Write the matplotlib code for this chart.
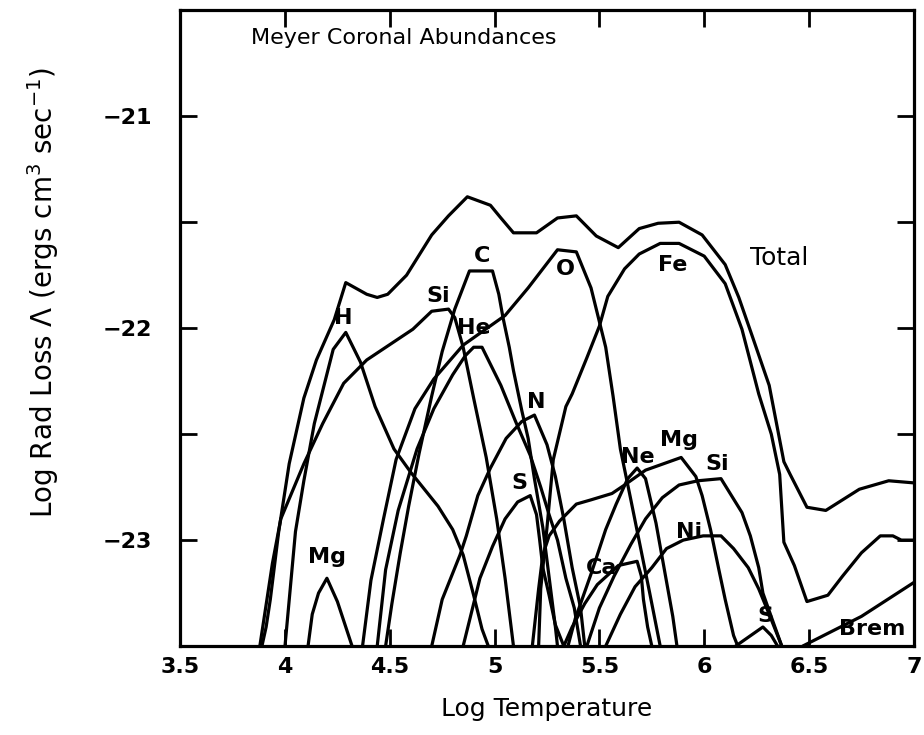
import matplotlib
matplotlib.use("Agg")
import matplotlib.pyplot as plt
import numpy as np

# log T / log Lambda pairs
totalLogT = [3.89, 3.91, 3.93, 3.97, 4.02, 4.09, 4.15, 4.235, 4.29, 4.39, 4.44, 4.49, 4.58, 4.70, 4.78,
             4.87, 4.98, 5.03, 5.09, 5.20, 5.30, 5.39, 5.485, 5.59, 5.69, 5.78, 5.88, 5.99, 6.10, 6.165,
             6.23, 6.31, 6.38, 6.41, 6.49, 6.58, 6.74, 6.88, 7.0]
totalLoss = [-23.5, -23.41, -23.28, -22.96, -22.64, -22.33, -22.15, -21.96, -21.785, -21.84, -21.855,
             -21.84, -21.75, -21.56, -21.47, -21.38, -21.42, -21.48, -21.55, -21.55, -21.48, -21.47,
             -21.565, -21.62, -21.53, -21.505, -21.50, -21.56, -21.70, -21.855, -22.04, -22.27, -22.63,
             -22.69, -22.845, -22.86, -22.76, -22.72, -22.73]

feLogT = [5.21, 5.22, 5.25, 5.28, 5.34, 5.37, 5.44, 5.50, 5.54, 5.62, 5.69, 5.79, 5.88, 6.00, 6.10, 6.18,
          6.26, 6.32, 6.36, 6.38, 6.43, 6.49, 6.59, 6.66, 6.75, 6.84, 6.90, 6.94, 7.0]
feLoss = [-23.5, -23.23, -22.94, -22.62, -22.37, -22.31, -22.14, -21.99, -21.85, -21.72, -21.65, -21.60,
          -21.60, -21.66, -21.79, -22.005, -22.31, -22.50, -22.69, -23.01, -23.12, -23.29, -23.26, -23.17,
          -23.06, -22.98, -22.98, -23.0, -23.0]

oLogT = [4.37, 4.41, 4.47, 4.53, 4.62, 4.71, 4.85, 5.05, 5.16, 5.30, 5.39, 5.46, 5.50, 5.53, 5.565, 5.60,
         5.65, 5.74, 5.79]
oLoss = [-23.5, -23.19, -22.90, -22.62, -22.38, -22.24, -22.08, -21.94, -21.81, -21.63, -21.64, -21.81,
         -21.97, -22.09, -22.32, -22.57, -22.81, -23.25, -23.5]

hLogT = [4.00, 4.05, 4.09, 4.14, 4.23, 4.29, 4.36, 4.43, 4.52, 4.60, 4.73, 4.80, 4.85, 4.90, 4.94, 4.97]
hLoss = [-23.5, -22.96, -22.72, -22.45, -22.10, -22.02, -22.16, -22.37, -22.57, -22.68, -22.84, -22.95,
         -23.07, -23.26, -23.42, -23.5]

siLowLogT = [3.88, 3.94, 3.98, 4.09, 4.18, 4.28, 4.39, 4.61, 4.70, 4.78, 4.81, 4.85, 4.90, 4.96, 5.01,
             5.05, 5.09]
siLowLoss = [-23.5, -23.11, -22.90, -22.64, -22.45, -22.26, -22.15, -22.005, -21.92, -21.91, -21.95,
             -22.09, -22.33, -22.61, -22.90, -23.18, -23.5]

mgLowLogT = [4.11, 4.13, 4.16, 4.20, 4.25, 4.28, 4.32]
mgLowLoss = [-23.5, -23.35, -23.25, -23.18, -23.29, -23.38, -23.5]

cLogT = [4.48, 4.51, 4.55, 4.59, 4.64, 4.70, 4.75, 4.81, 4.88, 4.99, 5.02, 5.04, 5.07, 5.09, 5.13, 5.16,
         5.19, 5.23, 5.29, 5.30]
cLoss = [-23.5, -23.30, -23.06, -22.84, -22.59, -22.32, -22.11, -21.91, -21.73, -21.73, -21.84, -21.95,
         -22.09, -22.20, -22.39, -22.52, -22.71, -22.94, -23.41, -23.5]

heLogT = [4.44, 4.48, 4.54, 4.63, 4.71, 4.80, 4.86, 4.90, 4.94, 5.03, 5.10, 5.17, 5.22, 5.26, 5.30, 5.34,
          5.38, 5.41]
heLoss = [-23.5, -23.14, -22.86, -22.57, -22.38, -22.22, -22.13, -22.09, -22.09, -22.27, -22.44, -22.60,
          -22.75, -22.88, -23.0, -23.18, -23.32, -23.5]

nLogT = [4.70, 4.75, 4.835, 4.865, 4.92, 4.98, 5.055, 5.13, 5.19, 5.25, 5.29, 5.33, 5.37, 5.41, 5.43]
nLoss = [-23.5, -23.28, -23.07, -22.98, -22.79, -22.66, -22.52, -22.44, -22.41, -22.55, -22.70, -22.90,
         -23.13, -23.32, -23.5]

sLowLogT = [4.85, 4.89, 4.93, 4.99, 5.05, 5.11, 5.17, 5.20, 5.215, 5.23, 5.26, 5.29, 5.33]
sLowLoss = [-23.5, -23.34, -23.18, -23.03, -22.90, -22.82, -22.79, -22.88, -23.0, -23.13, -23.26, -23.40,
            -23.5]

neLogT = [5.35, 5.385, 5.46, 5.53, 5.58, 5.635, 5.68, 5.72, 5.77, 5.81, 5.85, 5.87]
neLoss = [-23.5, -23.37, -23.16, -22.95, -22.83, -22.71, -22.66, -22.71, -22.92, -23.14, -23.36, -23.5]

mgHighLogT = [5.18, 5.21, 5.23, 5.26, 5.31, 5.39, 5.46, 5.56, 5.62, 5.72, 5.89, 5.96, 5.99, 6.03, 6.07,
              6.10, 6.14, 6.16]
mgHighLoss = [-23.5, -23.23, -23.07, -22.98, -22.91, -22.83, -22.81, -22.78, -22.74, -22.67, -22.61,
              -22.70, -22.79, -22.95, -23.14, -23.28, -23.45, -23.5]

siHighLogT = [5.44, 5.50, 5.57, 5.65, 5.72, 5.80, 5.88, 5.97, 6.08, 6.18, 6.22, 6.26, 6.28, 6.33, 6.37]
siHighLoss = [-23.5, -23.32, -23.17, -23.02, -22.90, -22.80, -22.74, -22.72, -22.71, -22.87, -22.98,
              -23.13, -23.25, -23.39, -23.5]

niLogT = [5.53, 5.60, 5.67, 5.75, 5.82, 5.90, 5.995, 6.08, 6.14, 6.21, 6.26, 6.31, 6.37]
niLoss = [-23.5, -23.35, -23.22, -23.13, -23.04, -23.0, -22.98, -22.98, -23.04, -23.13, -23.23, -23.35,
          -23.5]

caLogT = [5.33, 5.37, 5.43, 5.49, 5.59, 5.68, 5.70, 5.71, 5.73, 5.75]
caLoss = [-23.5, -23.41, -23.30, -23.21, -23.12, -23.10, -23.17, -23.28, -23.41, -23.5]

sHighLogT = [6.15, 6.28, 6.32, 6.35]
sHighLoss = [-23.5, -23.41, -23.45, -23.5]

bremLogT = [6.47, 6.75, 7.0]
bremLoss = [-23.5, -23.36, -23.2]

xTicks = [3.5, 4, 4.5, 5, 5.5, 6, 6.5, 7]
xTickLabels = ["3.5", "4", "4.5", "5", "5.5", "6", "6.5", "7"]
yTicks = [-23.5, -23, -22.5, -22, -21.5, -21, -20.5]
yTickLabels = ["", "\u221223", "", "\u221222", "", "\u221221", ""]

curves = [
    (totalLogT, totalLoss), (feLogT, feLoss), (oLogT, oLoss), (hLogT, hLoss),
    (siLowLogT, siLowLoss), (mgLowLogT, mgLowLoss), (cLogT, cLoss), (heLogT, heLoss),
    (nLogT, nLoss), (sLowLogT, sLowLoss), (neLogT, neLoss), (mgHighLogT, mgHighLoss),
    (siHighLogT, siHighLoss), (niLogT, niLoss), (caLogT, caLoss), (sHighLogT, sHighLoss),
    (bremLogT, bremLoss)]

# name, x, y, weight, size
labels = [
    ("Total", 6.36, -21.67, "normal", 18), ("Fe", 5.85, -21.70, "bold", 16), ("O", 5.34, -21.72, "bold", 16),
    ("C", 4.94, -21.66, "bold", 16), ("Si", 4.73, -21.85, "bold", 16), ("H", 4.28, -21.95, "bold", 16),
    ("He", 4.90, -22.0, "bold", 16), ("N", 5.20, -22.35, "bold", 16), ("S", 5.12, -22.73, "bold", 16),
    ("Ne", 5.685, -22.61, "bold", 16), ("Mg", 5.88, -22.53, "bold", 16), ("Si", 6.06, -22.64, "bold", 16),
    ("Ni", 5.93, -22.96, "bold", 16), ("Ca", 5.51, -23.13, "bold", 16), ("Mg", 4.20, -23.08, "bold", 16),
    ("S", 6.29, -23.36, "bold", 16), ("Brem", 6.80, -23.42, "bold", 16)]

fig = plt.figure(figsize=(9.24, 7.35), dpi=100)
ax = fig.add_axes([0.195, 0.121, 0.794, 0.865])

for logT, loss in curves:
    ax.plot(logT, loss, color="black", linewidth=2.3, solid_joinstyle="round", solid_capstyle="round")

for name, x, y, weight, size in labels:
    ax.text(x, y, name, ha="center", va="center", fontsize=size, fontweight=weight)

ax.text(0.305, 0.956, "Meyer Coronal Abundances", transform=ax.transAxes, ha="center", va="center",
        fontsize=16)

ax.set_xlim(3.5, 7)
ax.set_ylim(-23.5, -20.5)
ax.set_xticks(xTicks)
ax.set_xticklabels(xTickLabels, fontweight="bold")
ax.set_yticks(yTicks)
ax.set_yticklabels(yTickLabels, fontweight="bold")
ax.tick_params(direction="in", length=12, width=2, top=True, right=True, labelsize=16)
ax.tick_params(axis="x", pad=8)
ax.tick_params(axis="y", pad=20)
for spine in ax.spines.values():
    spine.set_linewidth(2.3)

ax.set_xlabel("Log Temperature", fontsize=18, labelpad=14)
ax.set_ylabel("Log Rad Loss \u039b (ergs cm$^{3}$ sec$^{-1}$)", fontsize=20)
ax.yaxis.set_label_coords(-0.163, 0.557)

fig.savefig("out.png", dpi=100)
